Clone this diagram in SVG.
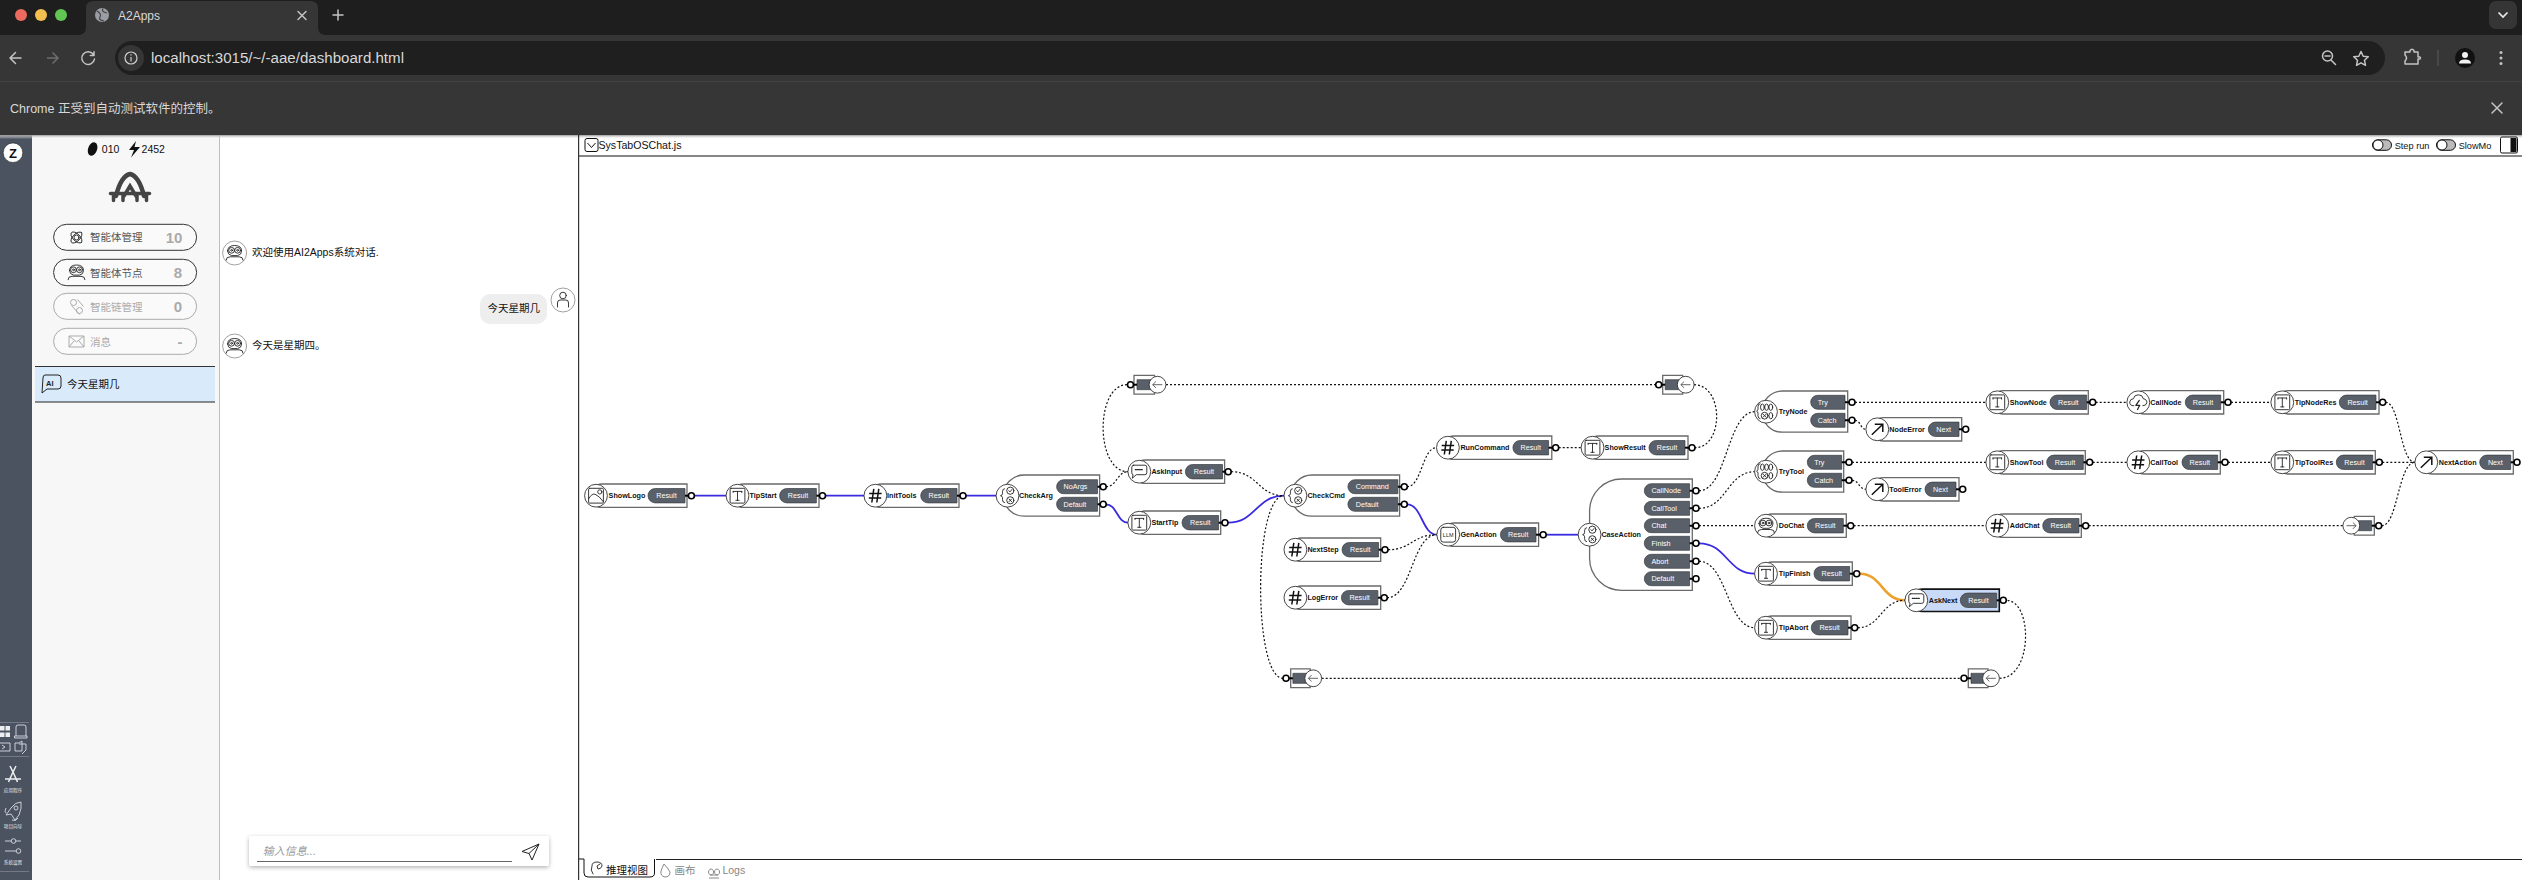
<svg xmlns="http://www.w3.org/2000/svg" width="2522" height="880" viewBox="0 0 2522 880">
<style>
text{font-family:"Liberation Sans","Noto Sans CJK SC",sans-serif;white-space:pre}
.b{fill:#fff;stroke:#6a6a6a;stroke-width:1.3}
.b2{fill:#c9d9f8;stroke:#111;stroke-width:1.6}
.p{fill:#5a6069;stroke:#3a3d42;stroke-width:.7}
.s{stroke:#000;stroke-width:2;fill:none}
.o{fill:#fff;stroke:#000;stroke-width:1.6}
.i{fill:#fff;stroke:#333;stroke-width:.9}
.n{font-size:7.2px;font-weight:bold;fill:#111}
.t{font-size:7.2px;fill:#fff}
.m{text-anchor:middle}
.l{fill:none;stroke:#222;stroke-width:.9;stroke-linecap:round;stroke-linejoin:round}
.dot{fill:none;stroke:#111;stroke-width:1.2;stroke-dasharray:2 2}
.blue{fill:none;stroke:#3a2be0;stroke-width:1.8}
.org{fill:none;stroke:#eea22e;stroke-width:2.6}
.ui{fill:none;stroke:#c4c4c4;stroke-width:1.5;stroke-linecap:round;stroke-linejoin:round}
.side{fill:none;stroke:#d8dce2;stroke-width:.9}
.sb{font-size:4.6px;fill:#e6e8ec;text-anchor:middle}
.btn{fill:#fafafa;stroke:#333;stroke-width:1}
.btd{fill:#fafafa;stroke:#aaa;stroke-width:1}
.bt{font-size:10.5px;fill:#555}
.btg{font-size:10.5px;fill:#aaa}
.bn{font-size:15px;font-weight:bold;fill:#aaa;text-anchor:middle}
.c{font-size:10.5px;fill:#111}
.av{fill:#fff;stroke:#888;stroke-width:.8}
</style>
<defs>
<linearGradient id="sh" x1="0" y1="0" x2="0" y2="1"><stop offset="0" stop-color="#999"/><stop offset="1" stop-color="#fff" stop-opacity="0"/></linearGradient>
<filter id="card" x="-5%" y="-20%" width="110%" height="150%"><feDropShadow dx="0" dy="1.5" stdDeviation="2" flood-color="#000" flood-opacity=".3"/></filter>
<g id="i-t" class="l"><rect x="-7.4" y="-7.4" width="14.8" height="14.8" rx="1"/><path d="M-4.3,-4.3H4.3M-4.3,-4.3V-3.2M4.3,-4.3V-3.2M0,-4.3V4.6M-1.6,4.6H1.6"/></g>
<g id="i-h" fill="none" stroke="#111" stroke-width="1.5"><path d="M-1.6,-6.8L-3.6,6.8M3.4,-6.8L1.4,6.8M-6.2,-2.2H6.2M-6.6,2.4H5.8"/></g>
<g id="i-a" fill="none" stroke="#111" stroke-width="1.5"><path d="M-5.5,5.5L5,-4.5M-2.5,-5H5.5V2.8"/></g>
<g id="i-c" class="l"><path d="M-5.6,-6.5H5.6Q7.5,-6.5 7.5,-4.5V1Q7.5,3 5.6,3H-3L-7,6.5L-6.2,3Q-7.5,2.8 -7.5,1V-4.5Q-7.5,-6.5 -5.6,-6.5Z"/><path stroke-width="1.2" stroke-dasharray="1 1" d="M-4,-2H4"/></g>
<g id="i-br" class="l"><circle cx="2.8" cy="-5" r="3.6"/><circle cx="2.8" cy="4.6" r="3.6"/><path d="M1.3,-5L2.4,-3.8L4.4,-6.2M1.5,3.3L4.1,5.9M4.1,3.3L1.5,5.9M-3,-7Q-5,-7 -5,-4V-2Q-5,-.5 -7,0Q-5,.5 -5,2V4Q-5,7 -3,7"/></g>
<g id="i-tr" class="l"><path d="M-6,-8Q-8,-8 -8,-5V-2.5Q-8,-1 -9.5,-.5Q-8,0 -8,1.5V4Q-8,7 -6,7"/><ellipse cx="-3.6" cy="-4.5" rx="1.9" ry="3.2"/><ellipse cx=".6" cy="-4.5" rx="1.9" ry="3.2"/><ellipse cx="4.8" cy="-4.5" rx="1.9" ry="3.2"/><circle cx="-1.4" cy="4" r="3.4"/><path d="M-3,2.4L.2,5.6M.2,2.4L-3,5.6"/><ellipse cx="4.8" cy="4" rx="1.9" ry="3.2"/></g>
<g id="i-ag" class="l"><circle cx="-3" cy="-2.7" r="2.9"/><circle cx="3" cy="-2.7" r="2.9"/><circle cx="-3" cy="-2.7" r=".9"/><circle cx="3" cy="-2.7" r=".9"/><path d="M-7,-2Q-7,-7.5 0,-7.5Q7,-7.5 7,-2Q7,1.8 3,2.6H-3Q-7,1.8 -7,-2ZM-8.5,7.2Q-8.5,3.8 -4.5,3.8H4.5Q8.5,3.8 8.5,7.2"/></g>
<g id="i-cl" class="l"><path d="M-4.5,3.5Q-9,3.5 -8.5,-.5Q-8,-3.5 -5,-3.5Q-4,-7.5 0,-7.5Q4.5,-7.5 5,-3.5Q8.8,-3 8.5,.5Q8,3.5 4.5,3.5"/><path stroke-width="1.2" d="M1,-2L-2.5,3H1.5L-.8,7.2"/></g>
<g id="i-im" class="l"><rect x="-7.4" y="-7.4" width="14.8" height="14.8" rx="1"/><circle cx="3.8" cy="-3.8" r="2.1"/><path d="M-7.4,3Q-4,-2.5 -1,-1.5Q3,0 7.4,6"/></g>
<g id="i-b" fill="none" stroke="#555" stroke-width=".9"><path d="M-4.8,0H4.8M-4.8,0L-1.6,-3.2M-4.8,0L-1.6,3.2"/></g>
<g id="i-f" fill="none" stroke="#555" stroke-width=".9"><path d="M-4.8,0H4.8M4.8,0L1.6,-3.2M4.8,0L1.6,3.2"/></g>
</defs>

<g id="browser">
<rect width="2522" height="35" fill="#1e1e1e"/>
<path d="M78,35Q86,35 86,27V8Q86,1 94,1H310Q318,1 318,8V27Q318,35 326,35Z" fill="#363636"/>
<circle cx="21" cy="15" r="6" fill="#ec6a5e"/><circle cx="41" cy="15" r="6" fill="#f4bf4f"/><circle cx="61" cy="15" r="6" fill="#61c554"/>
<circle cx="102" cy="15" r="7" fill="#9a9ea4"/><path d="M97,11Q102,14 100,17T104,21M103,8.5Q101,12 107,13" fill="none" stroke="#444" stroke-width="1.2"/>
<text x="118" y="19.5" font-size="12" fill="#d8d8d8">A2Apps</text>
<path class="ui" d="M298,11.5L306,19.5M306,11.5L298,19.5"/>
<path class="ui" d="M338,10V20M333,15H343"/>
<rect x="2489" y="1" width="28" height="28" rx="7" fill="#353535"/><path d="M2498.5,12.5L2503,17L2507.5,12.5" fill="none" stroke="#e8e8e8" stroke-width="1.7"/>
<rect y="35" width="2522" height="100" fill="#363636"/>
<rect y="81" width="2522" height=".8" fill="#474747"/>
<path class="ui" d="M21,58H10M15.5,52.5L10,58L15.5,63.5"/>
<path d="M47,58H58M52.5,52.5L58,58L52.5,63.5" fill="none" stroke="#6d6d6d" stroke-width="1.5"/>
<path class="ui" d="M93.5,54.5A6.4,6.4 0 1 0 94.5,59M94,51.8V55.5H90.3"/>
<rect x="115" y="41" width="2270" height="34" rx="17" fill="#1f1f1f"/>
<circle cx="131" cy="58" r="13" fill="#363636"/>
<circle cx="131" cy="58" r="6" fill="none" stroke="#d0d0d0" stroke-width="1.2"/><path d="M131,57V61.5M131,54.3V55.6" stroke="#d0d0d0" stroke-width="1.2"/>
<text x="151" y="63" font-size="15.1" fill="#d8d8d8">localhost:3015/~/-aae/dashboard.html</text>
<circle cx="2327.5" cy="56" r="5" class="ui"/><path class="ui" d="M2325,56H2330M2331,60L2335.5,64.5"/>
<path class="ui" d="M2361,51.5L2363.2,56.2L2368.3,56.8L2364.5,60.3L2365.5,65.3L2361,62.8L2356.5,65.3L2357.5,60.3L2353.7,56.8L2358.8,56.2Z"/>
<path class="ui" d="M2405,52H2410V50.5Q2412,48 2414,50.5V52H2418V57H2420Q2421,58 2420,59H2418V64H2405V61Q2408,58 2405,55Z"/>
<rect x="2437.5" y="50" width="1" height="16" fill="#5a5a5a"/>
<circle cx="2465" cy="58" r="10" fill="#111"/><circle cx="2465" cy="55" r="3" fill="#f2f2f2"/><path d="M2459,63.5Q2459,59.5 2465,59.5Q2471,59.5 2471,63.5Z" fill="#f2f2f2"/>
<circle cx="2501" cy="52.5" r="1.5" fill="#c4c4c4"/><circle cx="2501" cy="58" r="1.5" fill="#c4c4c4"/><circle cx="2501" cy="63.5" r="1.5" fill="#c4c4c4"/>
<text x="10" y="112.5" font-size="12.5" fill="#d8d8d8">Chrome 正受到自动测试软件的控制。</text>
<path class="ui" d="M2492,103L2502,113M2502,103L2492,113"/>
</g>

<g id="app">
<rect y="135" width="2522" height="745" fill="#fff"/>
<rect y="135" width="32" height="745" fill="#4b5361"/>
<rect x="32" y="135" width="187" height="745" fill="#f7f7f7"/>
<rect x="219" y="135" width="1" height="745" fill="#bdbdbd"/>
<rect y="135" width="2522" height="4" fill="url(#sh)"/>
<rect x="578" y="135" width="1.2" height="745" fill="#333"/>
<rect x="579" y="155.5" width="1943" height="1" fill="#111"/>
<rect x="656" y="859" width="1866" height="1" fill="#222"/>
<path d="M579,859H584V873Q584,877 588,877H650Q654.500,877 654.500,873V859" fill="#fff" stroke="#111" stroke-width="1"/>
</g>

<g id="sidebar">
<circle cx="13" cy="152.700" r="9.800" fill="#fff" stroke="#222" stroke-width=".6"/>
<text x="13" y="157.500" font-size="13" font-weight="bold" text-anchor="middle" fill="#111">Z</text>
<rect x="0" y="722" width="29" height=".8" fill="#7d8490"/><rect x="0" y="756" width="29" height=".8" fill="#7d8490"/><rect x="0" y="871" width="29" height=".8" fill="#7d8490"/>
<g fill="#eceef2"><rect x="0" y="726" width="4.500" height="4.500"/><rect x="0" y="732.500" width="4.500" height="4.500"/><rect x="5.500" y="726" width="4.500" height="4.500"/><rect x="5.500" y="732.500" width="4.500" height="4.500"/></g>
<path class="side" d="M16,736V727Q16,725 18,725H24Q26,725 26,727V736M14.500,736H27V738H14.500ZM-1,743H10V751H-1M2,745L5,747L2,749M22,741V751H15V743H19L22,741M19,744H26V750L22,754"/>
<path d="M10,766L13,772L16,766M13,772L17.500,782M13,772L8.500,782M5,779H21" fill="none" stroke="#eceef2" stroke-width="1.500"/>
<text class="sb" x="13" y="792">应用程序</text>
<path class="side" d="M21,802Q15,802 11,808L6,815L11,814L15,820L19,815Q22,808 21,802ZM6,808Q4,812 6,813M12,820Q16,822 18,818"/><circle class="side" cx="16" cy="808" r="2"/>
<text class="sb" x="13" y="828">项目向导</text>
<path class="side" d="M5,841H11M16,841H21M5,851H16"/><circle class="side" cx="13.500" cy="841" r="2.300"/><circle class="side" cx="18.500" cy="851" r="2.300"/>
<text class="sb" x="13" y="864">系统设置</text>
</g>

<g id="panel">
<ellipse cx="92.600" cy="149" rx="4.500" ry="7" transform="rotate(20 92.600 149)" fill="#111"/>
<text x="101.800" y="153" font-size="10.500" fill="#111">010</text>
<path d="M136,141L129,150H134L131,157.500L140,147H134.500Z" fill="#111"/>
<text x="141.600" y="153" font-size="10.500" fill="#111">2452</text>
<g id="logo" fill="none" stroke="#444" stroke-linecap="round"><path stroke-width="4.500" d="M116,196Q121,176 130,174Q139,176 144,196"/><path stroke-width="3.500" d="M124,196L130,186L136,196"/><path stroke-width="3.500" d="M110.500,193.500H149.500"/><path stroke-width="3.500" d="M113.500,194V200.500M123,194V200.500M137,194V200.500M146.500,194V200.500"/></g>
<rect class="btn" x="53.600" y="224.300" width="143" height="26" rx="13"/>
<g class="l" transform="translate(76.500,237.500)" stroke="#666"><ellipse rx="7" ry="3.500" transform="rotate(45)"/><ellipse rx="7" ry="3.500" transform="rotate(-45)"/><circle r="2.500"/></g>
<text class="bt" x="90" y="241">智能体管理</text><text class="bn" x="174" y="243">10</text>
<rect class="btn" x="53.600" y="259.300" width="143" height="26.400" rx="13"/>
<use href="#i-ag" x="76.500" y="272.500"/>
<text class="bt" x="90" y="276.500">智能体节点</text><text class="bn" x="178" y="278">8</text>
<rect class="btd" x="53.600" y="293.300" width="143" height="26" rx="13"/>
<g transform="translate(76.500,306.500)" fill="none" stroke="#aaa"><circle cx="-3" cy="-4" r="3"/><circle cx="3" cy="4" r="3"/><path d="M-5,-1L3,8M1,-7L7,0"/></g>
<text class="btg" x="90" y="310.500">智能链管理</text><text class="bn" x="178" y="312">0</text>
<rect class="btd" x="53.600" y="328.300" width="143" height="26" rx="13"/>
<path d="M69,336H84V347H69ZM69,336L76.500,342L84,336M69,347L74,341M84,347L79,341" fill="none" stroke="#aaa"/>
<text class="btg" x="90" y="345.500">消息</text><text class="bn" x="180" y="347">-</text>
<rect x="35" y="366.500" width="180" height="35.500" fill="#d9eafb"/>
<rect x="35" y="366" width="180" height="1" fill="#333"/><rect x="35" y="401.500" width="180" height="1" fill="#222"/>
<path d="M45,375H58Q61,375 61,378V386Q61,389 58,389H47L42,393L43,378Q43,375 45,375Z" fill="none" stroke="#222"/>
<text x="46" y="386" font-size="7.500" font-weight="bold" fill="#222">AI</text>
<text x="67" y="387.500" font-size="10.500" fill="#111">今天星期几</text>
</g>

<g id="chat">
<circle class="av" cx="234.600" cy="253" r="12"/><use href="#i-ag" x="234.600" y="253"/>
<text class="c" x="252" y="256">欢迎使用AI2Apps系统对话.</text>
<rect x="480" y="294" width="67" height="30" rx="10" fill="#eee"/>
<text class="c" x="487.600" y="312">今天星期几</text>
<circle class="av" cx="563" cy="300" r="12"/>
<g class="l"><circle cx="563" cy="295.500" r="3.300"/><path d="M557.500,307V303Q557.500,300 560,300H566Q568.500,300 568.500,303V307"/></g>
<circle class="av" cx="234.600" cy="346" r="12"/><use href="#i-ag" x="234.600" y="346"/>
<text class="c" x="252" y="349">今天是星期四。</text>
<g id="input"><rect x="249" y="836" width="300" height="30" rx="2" fill="#fff" filter="url(#card)"/>
<text x="262.800" y="855" font-size="11" font-style="italic" fill="#999">输入信息...</text>
<rect x="257" y="861" width="255" height="1" fill="#666"/>
<path d="M539,844L522,851.500L529,853.500L532,860ZM529,853.500L539,844" fill="none" stroke="#222" stroke-width="1"/></g>
</g>

<g id="tabs">
<path class="l" d="M593,874Q590,870 592,866Q592,862 597,862Q602,862 602,866Q601,869 598,869L597,866L600,864" />
<text x="606" y="874" font-size="10.500" fill="#111">推理视图</text>
<path d="M664,864Q668,868 670,872Q670,877 665,877Q660,876 661,871Q662,868 664,864" fill="none" stroke="#888"/>
<text x="674.500" y="874" font-size="10.500" fill="#888">画布</text>
<path d="M709,878H719M710,875H718M711,869a2.500,3 0 1 0 .1,0M717,869a2.500,3 0 1 0 .1,0" fill="none" stroke="#888"/>
<text x="722.400" y="874" font-size="10.500" fill="#888">Logs</text>
</g>

<g id="header">
<rect x="585" y="138.500" width="13" height="13" rx="2" fill="#fff" stroke="#111" stroke-width="1"/><path d="M587.500,143L591.500,147.500L595.500,143" fill="none" stroke="#111"/>
<text x="598.500" y="148.500" font-size="10.600" fill="#111">SysTabOSChat.js</text>
<rect x="2372.500" y="139.800" width="19" height="10.500" rx="5.200" fill="#bbb" stroke="#111"/><circle cx="2378" cy="145" r="5" fill="#fff" stroke="#111"/>
<text x="2394.700" y="148.500" font-size="9.200" fill="#111">Step run</text>
<rect x="2436.500" y="139.800" width="19" height="10.500" rx="5.200" fill="#bbb" stroke="#111"/><circle cx="2442" cy="145" r="5" fill="#fff" stroke="#111"/>
<text x="2458.700" y="148.500" font-size="9.200" fill="#111">SlowMo</text>
<rect x="2500.500" y="137" width="17" height="16" rx="1.500" fill="#fff" stroke="#111"/><rect x="2510.500" y="138" width="6" height="14" fill="#111"/>
</g>

<g id="connectors">
<path class="blue" d="M694,495.700H726M825.500,495.700H864M966,495.700H996"/>
<path class="blue" d="M1106,504.300C1117,504.300 1117,522.700 1128,522.700"/>
<path class="blue" d="M1228,522.700C1256,522.700 1256,495.700 1284,495.700"/>
<path class="blue" d="M1407,504.300C1422,504.300 1422,534.700 1437,534.700"/>
<path class="blue" d="M1546,534.700H1578"/>
<path class="blue" d="M1699,543.300C1727,543.300 1727,573.700 1755,573.700"/>
<path class="org" d="M1859.700,573.700C1882,573.700 1882,600.300 1905,600.300"/>
<path class="dot" d="M1106,486.700C1117,486.700 1117,471.700 1128,471.700"/>
<path class="dot" d="M1127,384.700C1095,384.700 1095,471.700 1128,471.700"/>
<path class="dot" d="M1166,384.700H1655.600"/>
<path class="dot" d="M1694,384.700C1724,384.700 1724,447.700 1695,447.700"/>
<path class="dot" d="M1231,471.700C1258,471.700 1258,495.700 1284,495.700"/>
<path class="dot" d="M1407,486.700C1422,486.700 1422,447.700 1436.500,447.700"/>
<path class="dot" d="M1558.700,447.700H1581"/>
<path class="dot" d="M1388,549.700C1412,549.700 1412,534.700 1437,534.700"/>
<path class="dot" d="M1387,597.700C1412,597.700 1412,534.700 1437,534.700"/>
<path class="dot" d="M1283,678.300C1253,678.300 1253,495.700 1284,495.700"/>
<path class="dot" d="M1321.700,678.300H1961"/>
<path class="dot" d="M1999.500,678.300C2033,678.300 2033,600.300 2006.300,600.300"/>
<path class="dot" d="M1699,490.700C1727,490.700 1727,411.700 1755,411.700"/>
<path class="dot" d="M1699,508.300C1727,508.300 1727,471.700 1755,471.700"/>
<path class="dot" d="M1699,525.700H1755"/>
<path class="dot" d="M1699,561.300C1727,561.300 1727,627.700 1755,627.700"/>
<path class="dot" d="M1855,402.300H1986"/>
<path class="dot" d="M1855,420.300C1860.500,420.300 1860.500,429.300 1866,429.300"/>
<path class="dot" d="M1852,462.300H1986"/>
<path class="dot" d="M1852,480.300C1859,480.300 1859,489.300 1866,489.300"/>
<path class="dot" d="M1853.700,525.700H1986"/>
<path class="dot" d="M1857.700,627.700C1881,627.700 1881,600.300 1905,600.300"/>
<path class="dot" d="M2095.700,402.300H2127M2231,402.300H2271M2092.700,462.300H2127M2228,462.300H2271"/>
<path class="dot" d="M2385.700,402.300C2400,402.300 2400,462.300 2415,462.300"/>
<path class="dot" d="M2382.300,462.300H2415"/>
<path class="dot" d="M2088.700,525.700H2343"/>
<path class="dot" d="M2381.700,525.700C2398,525.700 2398,462.300 2415,462.300"/>
</g>

<g id="nodes">
<g id="ShowLogo" transform="translate(596,495.7)"><path class="b" d="M91,-11.7H6A11.700 11.700 0 0 0 6,11.700H91Z"/><path class="p" d="M89,-7.200H59.200A7.200 7.200 0 0 0 59.200,7.200H89Z"/><path class="s" d="M89,0H93"/><circle class="o" cx="95.400" r="3"/><circle class="i" r="11.400"/><use href="#i-im"/><text class="n" x="12.600" y="2.600">ShowLogo</text><text class="t m" x="70.500" y="2.600">Result</text></g>
<g id="TipStart" transform="translate(737.5,495.7)"><path class="b" d="M81.500,-11.700H6A11.700 11.700 0 0 0 6,11.700H81.500Z"/><path class="p" d="M78.900,-7.200H49.300A7.200 7.200 0 0 0 49.300,7.200H78.900Z"/><path class="s" d="M78.900,0H83"/><circle class="o" cx="85" r="3"/><circle class="i" r="11.400"/><use href="#i-t"/><text class="n" x="12.100" y="2.600">TipStart</text><text class="t m" x="60.500" y="2.600">Result</text></g>
<g id="InitTools" transform="translate(875.4,495.7)"><path class="b" d="M83.600,-11.700H6A11.700 11.700 0 0 0 6,11.700H83.600Z"/><path class="p" d="M81.600,-7.200H52.500A7.200 7.200 0 0 0 52.500,7.200H81.600Z"/><path class="s" d="M81.600,0H85.500"/><circle class="o" cx="87.600" r="3"/><circle class="i" r="11.400"/><use href="#i-h"/><text class="n" x="11.700" y="2.600">InitTools</text><text class="t m" x="63.400" y="2.600">Result</text></g>
<g id="CheckArg" transform="translate(1007.5,495.7)"><path class="b" d="M92.100,-20.700H16.500A20.600 20.600 0 0 0 16.500,20.500H92.100Z"/><path class="p" d="M90,-16H56.100A7 7 0 0 0 56.100,-2H90Z"/><path class="p" d="M90,1.600H56.100A7 7 0 0 0 56.100,15.600H90Z"/><path class="s" d="M90,-9H93.500M90,8.600H93.500"/><circle class="o" cx="95.700" cy="-9" r="3"/><circle class="o" cx="95.700" cy="8.600" r="3"/><circle class="i" r="11.400"/><use href="#i-br"/><text class="n" x="11.500" y="2.600">CheckArg</text><text class="t" x="56" y="-6.400">NoArgs</text><text class="t" x="56" y="11.200">Default</text></g>
<g id="AskInput" transform="translate(1139.3,471.7)"><path class="b" d="M85.300,-11.700H6A11.700 11.700 0 0 0 6,11.700H85.300Z"/><path class="p" d="M83.200,-7.200H53.300A7.200 7.200 0 0 0 53.300,7.200H83.200Z"/><path class="s" d="M83.200,0H87"/><circle class="o" cx="88.900" r="3"/><circle class="i" r="11.400"/><use href="#i-c"/><text class="n" x="12.100" y="2.600">AskInput</text><text class="t m" x="64.600" y="2.600">Result</text></g>
<g id="StartTip" transform="translate(1139.3,522.7)"><path class="b" d="M81.400,-11.700H6A11.700 11.700 0 0 0 6,11.700H81.400Z"/><path class="p" d="M79.300,-7.200H49.900A7.200 7.200 0 0 0 49.900,7.200H79.300Z"/><path class="s" d="M79.300,0H83.500"/><circle class="o" cx="85.700" r="3"/><circle class="i" r="11.400"/><use href="#i-t"/><text class="n" x="12.100" y="2.600">StartTip</text><text class="t m" x="61" y="2.600">Result</text></g>
<g id="CheckCmd" transform="translate(1295.4,495.7)"><path class="b" d="M104.200,-20.700H16.500A20.600 20.600 0 0 0 16.500,20.500H104.200Z"/><path class="p" d="M102.500,-16H59.500A7 7 0 0 0 59.500,-2H102.500Z"/><path class="p" d="M102.500,1.600H59.500A7 7 0 0 0 59.500,15.600H102.500Z"/><path class="s" d="M102.500,-9H106.500M102.500,8.600H106.500"/><circle class="o" cx="108.900" cy="-9" r="3"/><circle class="o" cx="108.900" cy="8.600" r="3"/><circle class="i" r="11.400"/><use href="#i-br"/><text class="n" x="12" y="2.600">CheckCmd</text><text class="t" x="60.300" y="-6.400">Command</text><text class="t" x="60.300" y="11.200">Default</text></g>
<g id="RunCommand" transform="translate(1447.9,447.7)"><path class="b" d="M103.900,-11.700H6A11.700 11.700 0 0 0 6,11.700H103.900Z"/><path class="p" d="M100.700,-7.200H72.200A7.200 7.200 0 0 0 72.200,7.200H100.700Z"/><path class="s" d="M100.700,0H105.500"/><circle class="o" cx="107.800" r="3"/><circle class="i" r="11.400"/><use href="#i-h"/><text class="n" x="12.500" y="2.600">RunCommand</text><text class="t m" x="82.800" y="2.600">Result</text></g>
<g id="ShowResult" transform="translate(1592.5,447.7)"><path class="b" d="M95.500,-11.700H6A11.700 11.700 0 0 0 6,11.700H95.500Z"/><path class="p" d="M92.500,-7.200H63.700A7.200 7.200 0 0 0 63.700,7.200H92.500Z"/><path class="s" d="M92.500,0H97.300"/><circle class="o" cx="99.500" r="3"/><circle class="i" r="11.400"/><use href="#i-t"/><text class="n" x="12.100" y="2.600">ShowResult</text><text class="t m" x="74.500" y="2.600">Result</text></g>
<g id="GenAction" transform="translate(1448.2,534.7)"><path class="b" d="M90.400,-11.700H6A11.700 11.700 0 0 0 6,11.700H90.400Z"/><path class="p" d="M87.800,-7.200H59.400A7.200 7.200 0 0 0 59.400,7.200H87.800Z"/><path class="s" d="M87.800,0H92.800"/><circle class="o" cx="95" r="3"/><circle class="i" r="11.400"/><rect class="l" x="-7.400" y="-7.400" width="14.800" height="14.800" rx="2.500"/><text x="0" y="2" font-size="5.500" text-anchor="middle" fill="#222">LLM</text><text class="n" x="12.200" y="2.600">GenAction</text><text class="t m" x="70" y="2.600">Result</text></g>
<g id="NextStep" transform="translate(1295.4,549.7)"><path class="b" d="M85.300,-11.700H6A11.700 11.700 0 0 0 6,11.700H85.300Z"/><path class="p" d="M83.200,-7.200H53.800A7.200 7.200 0 0 0 53.800,7.200H83.200Z"/><path class="s" d="M83.200,0H87.400"/><circle class="o" cx="89.600" r="3"/><circle class="i" r="11.400"/><use href="#i-h"/><text class="n" x="12" y="2.600">NextStep</text><text class="t m" x="64.900" y="2.600">Result</text></g>
<g id="LogError" transform="translate(1295.4,597.7)"><path class="b" d="M85.300,-11.700H6A11.700 11.700 0 0 0 6,11.700H85.300Z"/><path class="p" d="M82.500,-7.200H53.200A7.200 7.200 0 0 0 53.200,7.200H82.500Z"/><path class="s" d="M82.500,0H86.700"/><circle class="o" cx="88.900" r="3"/><circle class="i" r="11.400"/><use href="#i-h"/><text class="n" x="12" y="2.600">LogError</text><text class="t m" x="64.200" y="2.600">Result</text></g>
<g id="CaseAction" transform="translate(1589.6,534.7)"><path class="b" d="M102.700,-55.700H32A32 32 0 0 0 0,-23.700V23.600A32 32 0 0 0 32,55.600H102.700Z"/>
<path class="p" d="M100,-51H61.700A7 7 0 0 0 61.700,-37H100Z"/><path class="p" d="M100,-33.400H61.700A7 7 0 0 0 61.700,-19.400H100Z"/><path class="p" d="M100,-16H61.700A7 7 0 0 0 61.700,-2H100Z"/><path class="p" d="M100,1.600H61.700A7 7 0 0 0 61.700,15.600H100Z"/><path class="p" d="M100,19.600H61.700A7 7 0 0 0 61.700,33.600H100Z"/><path class="p" d="M100,37H61.700A7 7 0 0 0 61.700,51H100Z"/>
<path class="s" d="M100,-44H104M100,-26.400H104M100,-9H104M100,8.600H104M100,26.600H104M100,44H104"/>
<circle class="o" cx="106.400" cy="-44" r="3"/><circle class="o" cx="106.400" cy="-26.400" r="3"/><circle class="o" cx="106.400" cy="-9" r="3"/><circle class="o" cx="106.400" cy="8.600" r="3"/><circle class="o" cx="106.400" cy="26.600" r="3"/><circle class="o" cx="106.400" cy="44" r="3"/>
<circle class="i" r="11.400"/><use href="#i-br"/><text class="n" x="11.800" y="2.600">CaseAction</text>
<text class="t" x="61.800" y="-41.400">CallNode</text><text class="t" x="61.800" y="-23.800">CallTool</text><text class="t" x="61.800" y="-6.400">Chat</text><text class="t" x="61.800" y="11.200">Finish</text><text class="t" x="61.800" y="29.200">Abort</text><text class="t" x="61.800" y="46.600">Default</text></g>
<g id="TryNode" transform="translate(1766,411.7)"><path class="b" d="M81.700,-20.700H16.500A20.600 20.600 0 0 0 16.500,20.500H81.700Z"/><path class="p" d="M79,-16.400H51.700A7 7 0 0 0 51.700,-2.400H79Z"/><path class="p" d="M79,1.600H51.700A7 7 0 0 0 51.700,15.600H79Z"/><path class="s" d="M79,-9.400H84M79,8.600H84"/><circle class="o" cx="86" cy="-9.400" r="3"/><circle class="o" cx="86" cy="8.600" r="3"/><circle class="i" r="11.400"/><use href="#i-tr"/><text class="n" x="12.700" y="2.600">TryNode</text><text class="t" x="51.700" y="-6.800">Try</text><text class="t" x="51.700" y="11.200">Catch</text></g>
<g id="NodeError" transform="translate(1877.3,429.3)"><path class="b" d="M84.400,-11.700H6A11.700 11.700 0 0 0 6,11.700H84.400Z"/><path class="p" d="M81.700,-7.200H58.200A7.200 7.200 0 0 0 58.200,7.200H81.700Z"/><path class="s" d="M81.700,0H86.200"/><circle class="o" cx="88.400" r="3"/><circle class="i" r="11.400"/><use href="#i-a"/><text class="n" x="12" y="2.600">NodeError</text><text class="t m" x="66.300" y="2.600">Next</text></g>
<g id="TryTool" transform="translate(1766,471.7)"><path class="b" d="M77.700,-20.700H16.500A20.600 20.600 0 0 0 16.500,20.500H77.700Z"/><path class="p" d="M75.700,-16.400H48.300A7 7 0 0 0 48.300,-2.400H75.700Z"/><path class="p" d="M75.700,1.600H48.300A7 7 0 0 0 48.300,15.600H75.700Z"/><path class="s" d="M75.700,-9.400H81M75.700,8.600H81"/><circle class="o" cx="83" cy="-9.400" r="3"/><circle class="o" cx="83" cy="8.600" r="3"/><circle class="i" r="11.400"/><use href="#i-tr"/><text class="n" x="12.700" y="2.600">TryTool</text><text class="t" x="48.300" y="-6.800">Try</text><text class="t" x="48.300" y="11.200">Catch</text></g>
<g id="ToolError" transform="translate(1877.3,489.3)"><path class="b" d="M81.700,-11.700H6A11.700 11.700 0 0 0 6,11.700H81.700Z"/><path class="p" d="M78.700,-7.200H54.900A7.200 7.200 0 0 0 54.900,7.200H78.700Z"/><path class="s" d="M78.700,0H83.200"/><circle class="o" cx="85.400" r="3"/><circle class="i" r="11.400"/><use href="#i-a"/><text class="n" x="12" y="2.600">ToolError</text><text class="t m" x="63.200" y="2.600">Next</text></g>
<g id="DoChat" transform="translate(1766,525.7)"><path class="b" d="M80.300,-11.700H6A11.700 11.700 0 0 0 6,11.700H80.300Z"/><path class="p" d="M77.300,-7.200H48.500A7.200 7.200 0 0 0 48.500,7.200H77.300Z"/><path class="s" d="M77.300,0H82.500"/><circle class="o" cx="84.700" r="3"/><circle class="i" r="11.400"/><use href="#i-ag"/><text class="n" x="12.700" y="2.600">DoChat</text><text class="t m" x="59.300" y="2.600">Result</text></g>
<g id="TipFinish" transform="translate(1766,573.7)"><path class="b" d="M86.300,-11.700H6A11.700 11.700 0 0 0 6,11.700H86.300Z"/><path class="p" d="M83.700,-7.200H55.200A7.200 7.200 0 0 0 55.200,7.200H83.700Z"/><path class="s" d="M83.700,0H88.500"/><circle class="o" cx="90.700" r="3"/><circle class="i" r="11.400"/><use href="#i-t"/><text class="n" x="12.700" y="2.600">TipFinish</text><text class="t m" x="65.800" y="2.600">Result</text></g>
<g id="TipAbort" transform="translate(1766,627.7)"><path class="b" d="M85,-11.700H6A11.700 11.700 0 0 0 6,11.700H85Z"/><path class="p" d="M82,-7.200H52.500A7.200 7.200 0 0 0 52.500,7.200H82Z"/><path class="s" d="M82,0H86.500"/><circle class="o" cx="88.700" r="3"/><circle class="i" r="11.400"/><use href="#i-t"/><text class="n" x="12.700" y="2.600">TipAbort</text><text class="t m" x="63.600" y="2.600">Result</text></g>
<g id="AskNext" transform="translate(1916.3,600.3)"><path class="b2" d="M83,-11.200H6A11.200 11.200 0 0 0 6,11.200H83Z"/><path class="p" d="M80.400,-7.200H51.200A7.200 7.200 0 0 0 51.200,7.200H80.400Z"/><path class="s" d="M80.400,0H84.800"/><circle class="o" cx="87" r="3"/><circle class="i" r="11.400"/><use href="#i-c"/><text class="n" x="12.400" y="2.600">AskNext</text><text class="t m" x="62.200" y="2.600">Result</text></g>
<g id="ShowNode" transform="translate(1997.3,402.3)"><path class="b" d="M91,-11.700H6A11.700 11.700 0 0 0 6,11.700H91Z"/><path class="p" d="M89.400,-7.200H59.900A7.200 7.200 0 0 0 59.900,7.200H89.400Z"/><path class="s" d="M89.400,0H93.200"/><circle class="o" cx="95.400" r="3"/><circle class="i" r="11.400"/><use href="#i-t"/><text class="n" x="12.400" y="2.600">ShowNode</text><text class="t m" x="71" y="2.600">Result</text></g>
<g id="ShowTool" transform="translate(1997.3,462.3)"><path class="b" d="M88,-11.700H6A11.700 11.700 0 0 0 6,11.700H88Z"/><path class="p" d="M86,-7.200H56.600A7.200 7.200 0 0 0 56.600,7.200H86Z"/><path class="s" d="M86,0H90.200"/><circle class="o" cx="92.400" r="3"/><circle class="i" r="11.400"/><use href="#i-t"/><text class="n" x="12.400" y="2.600">ShowTool</text><text class="t m" x="67.700" y="2.600">Result</text></g>
<g id="AddChat" transform="translate(1997.3,525.7)"><path class="b" d="M84,-11.700H6A11.700 11.700 0 0 0 6,11.700H84Z"/><path class="p" d="M81.700,-7.200H52.600A7.200 7.200 0 0 0 52.600,7.200H81.700Z"/><path class="s" d="M81.700,0H86.200"/><circle class="o" cx="88.400" r="3"/><circle class="i" r="11.400"/><use href="#i-h"/><text class="n" x="12.400" y="2.600">AddChat</text><text class="t m" x="63.500" y="2.600">Result</text></g>
<g id="CallNode" transform="translate(2138.3,402.3)"><path class="b" d="M85.400,-11.700H6A11.700 11.700 0 0 0 6,11.700H85.400Z"/><path class="p" d="M82.400,-7.200H54.200A7.200 7.200 0 0 0 54.200,7.200H82.400Z"/><path class="s" d="M82.400,0H87.500"/><circle class="o" cx="89.700" r="3"/><circle class="i" r="11.400"/><use href="#i-cl"/><text class="n" x="12" y="2.600">CallNode</text><text class="t m" x="64.700" y="2.600">Result</text></g>
<g id="CallTool" transform="translate(2138.3,462.3)"><path class="b" d="M82,-11.700H6A11.700 11.700 0 0 0 6,11.700H82Z"/><path class="p" d="M79.400,-7.200H50.900A7.200 7.200 0 0 0 50.900,7.200H79.400Z"/><path class="s" d="M79.400,0H84.500"/><circle class="o" cx="86.700" r="3"/><circle class="i" r="11.400"/><use href="#i-h"/><text class="n" x="12" y="2.600">CallTool</text><text class="t m" x="61.500" y="2.600">Result</text></g>
<g id="TipNodeRes" transform="translate(2282.3,402.3)"><path class="b" d="M96.700,-11.700H6A11.700 11.700 0 0 0 6,11.700H96.700Z"/><path class="p" d="M93.700,-7.200H64.200A7.200 7.200 0 0 0 64.200,7.200H93.700Z"/><path class="s" d="M93.700,0H98.200"/><circle class="o" cx="100.400" r="3"/><circle class="i" r="11.400"/><use href="#i-t"/><text class="n" x="12.400" y="2.600">TipNodeRes</text><text class="t m" x="75.300" y="2.600">Result</text></g>
<g id="TipToolRes" transform="translate(2282.3,462.3)"><path class="b" d="M93,-11.700H6A11.700 11.700 0 0 0 6,11.700H93Z"/><path class="p" d="M90.400,-7.200H61.200A7.200 7.200 0 0 0 61.200,7.200H90.400Z"/><path class="s" d="M90.400,0H94.800"/><circle class="o" cx="97" r="3"/><circle class="i" r="11.400"/><use href="#i-t"/><text class="n" x="12.400" y="2.600">TipToolRes</text><text class="t m" x="72.200" y="2.600">Result</text></g>
<g id="NextAction" transform="translate(2426.3,462.3)"><path class="b" d="M87,-11.700H6A11.700 11.700 0 0 0 6,11.700H87Z"/><path class="p" d="M84.400,-7.200H60.600A7.200 7.200 0 0 0 60.600,7.200H84.400Z"/><path class="s" d="M84.400,0H88.500"/><circle class="o" cx="90.700" r="3"/><circle class="i" r="11.400"/><use href="#i-a"/><text class="n" x="12.400" y="2.600">NextAction</text><text class="t m" x="69" y="2.600">Next</text></g>
<g id="JumpA" transform="translate(1157.5,384.7)"><path class="b" d="M-23.500,-9.400H-3V9.400H-23.500Z"/><path class="p" d="M-20.500,-5H-6V5H-20.500Z"/><path class="s" d="M-24,0H-20.500"/><circle class="o" cx="-27" r="3"/><circle class="i" r="8.400"/><use href="#i-b"/></g>
<g id="JumpB" transform="translate(1685.7,384.7)"><path class="b" d="M-23,-9.400H-3V9.400H-23Z"/><path class="p" d="M-20.500,-5H-6V5H-20.500Z"/><path class="s" d="M-24,0H-20.500"/><circle class="o" cx="-27" r="3"/><circle class="i" r="8.400"/><use href="#i-b"/></g>
<g id="JumpC" transform="translate(1313.2,678.3)"><path class="b" d="M-22.500,-9.400H-3V9.400H-22.500Z"/><path class="p" d="M-20.300,-5H-6V5H-20.300Z"/><path class="s" d="M-24,0H-20.300"/><circle class="o" cx="-27.200" r="3"/><circle class="i" r="8.400"/><use href="#i-b"/></g>
<g id="JumpD" transform="translate(1991,678.3)"><path class="b" d="M-22.700,-9.400H-3V9.400H-22.700Z"/><path class="p" d="M-20,-5H-6V5H-20Z"/><path class="s" d="M-24,0H-20"/><circle class="o" cx="-27" r="3"/><circle class="i" r="8.400"/><use href="#i-b"/></g>
<g id="JumpE" transform="translate(2351.3,525.7)"><path class="b" d="M3,-9.400H23V9.400H3Z"/><path class="p" d="M7,-5H20.400V5H7Z"/><path class="s" d="M20.400,0H24.500"/><circle class="o" cx="27.400" r="3"/><circle class="i" r="8.400"/><use href="#i-f"/></g>
</g>
</svg>
